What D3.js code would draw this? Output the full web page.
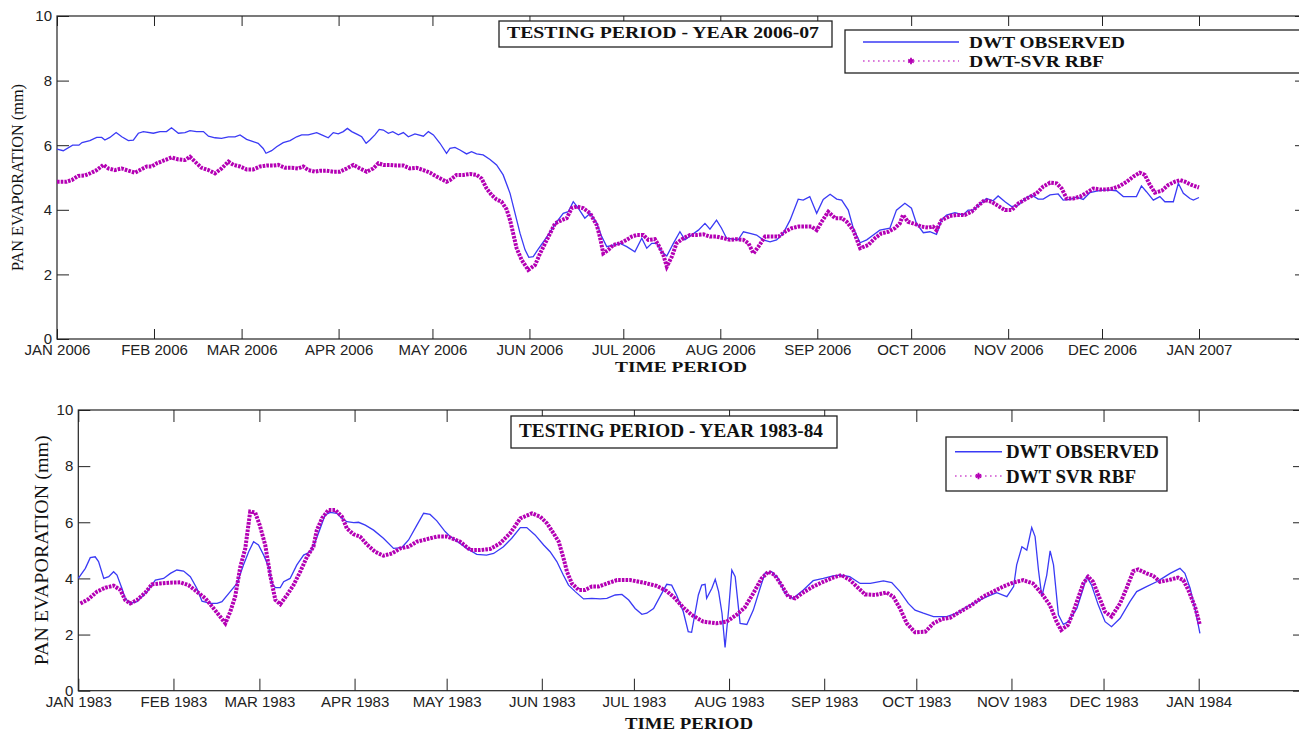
<!DOCTYPE html>
<html lang="en">
<head>
<meta charset="UTF-8">
<title>Pan evaporation - DWT observed vs DWT-SVR RBF</title>
<script src="https://d3js.org/d3.v7.min.js"></script>
<style>
  html, body { margin: 0; background: #fff; }
  svg { display: block; }
  .tick text { font-family: "Liberation Sans", Arial, sans-serif; fill: #222; }
  .serif { font-family: "Liberation Serif", "Times New Roman", serif; fill: #111; }
</style>
</head>
<body>
<svg width="1299" height="732"></svg>
<script>
// values: [day of year, pan evaporation mm]
const yTicks = [0, 2, 4, 6, 8, 10];

const obs2006 = [[0,5.88],[2,5.83],[5,6.00],[7,6.00],[8,6.08],[10.5,6.14],[12.7,6.24],[14.3,6.24],[15.3,6.16],[16.9,6.24],[18.9,6.39],[20.7,6.26],[22.8,6.14],[24.4,6.16],[26,6.37],[27.6,6.42],[30.8,6.37],[32.9,6.42],[35,6.42],[36.6,6.54],[38.8,6.37],[40.9,6.39],[42.5,6.45],[44.6,6.42],[46.8,6.42],[48.4,6.28],[50.5,6.23],[52.6,6.21],[54.8,6.26],[56.9,6.26],[58.5,6.32],[60.6,6.18],[62.7,6.11],[64.3,6.06],[65.9,5.90],[66.8,5.75],[68.6,5.83],[70.2,5.95],[72.3,6.08],[74.5,6.14],[76.6,6.26],[78.2,6.32],[80.3,6.32],[83,6.39],[84.6,6.32],[86.7,6.23],[88.3,6.39],[89.9,6.35],[91.5,6.42],[92.8,6.52],[94.2,6.42],[96.3,6.32],[97.4,6.26],[98.8,6.06],[100,6.16],[101.6,6.32],[103,6.49],[104.3,6.47],[105.9,6.37],[107.3,6.42],[109.1,6.32],[110.7,6.39],[112.3,6.26],[114.4,6.35],[117.1,6.28],[118.7,6.42],[120.3,6.32],[122.4,6.06],[124.5,5.75],[125.6,5.90],[127.2,5.93],[128.8,5.85],[130.9,5.73],[132.5,5.80],[134.1,5.73],[136.2,5.70],[138.4,5.56],[140.5,5.39],[142.6,5.08],[144.8,4.51],[146.4,3.89],[148,3.27],[149.6,2.76],[150.8,2.53],[152.2,2.55],[153.8,2.78],[155.9,3.07],[158,3.37],[159.7,3.63],[161.8,3.89],[163.4,3.94],[165,4.25],[166.6,4.05],[168.7,3.74],[170.4,3.89],[172.5,3.58],[174.1,3.17],[175.7,2.86],[177.8,2.91],[180,2.96],[182.1,2.86],[184.7,2.70],[186.9,3.12],[188.5,2.81],[190.1,2.96],[191.7,2.96],[193.3,2.70],[194.9,2.57],[197,2.96],[199.1,3.32],[200.7,3.07],[202.8,3.22],[205,3.37],[207.1,3.58],[208.7,3.40],[210.8,3.68],[212.4,3.43],[214,3.12],[216.2,3.09],[217.7,3.07],[219.4,3.32],[221.5,3.27],[223.6,3.22],[225.7,3.07],[227.9,3.01],[230,3.07],[232.1,3.27],[234.3,3.68],[236.9,4.33],[238.5,4.30],[240.6,4.41],[242.8,3.89],[244.9,4.32],[247.1,4.48],[249.2,4.33],[250.8,4.30],[252.9,3.99],[254.5,3.43],[256.7,2.98],[258.8,3.07],[260.9,3.22],[263,3.37],[266.2,3.43],[268.3,3.99],[271,4.20],[273.1,4.05],[274.7,3.58],[276.9,3.29],[279,3.32],[281.1,3.24],[282.7,3.68],[284.3,3.84],[287,3.91],[289.6,3.84],[291.2,3.99],[292.8,3.99],[295,4.18],[297.1,4.35],[299.2,4.28],[300.8,4.43],[303,4.25],[305.1,4.10],[307.3,4.15],[309.4,4.35],[311.5,4.46],[313.6,4.33],[315.2,4.33],[317.4,4.46],[320,4.49],[321.6,4.30],[323.8,4.32],[325.9,4.39],[328,4.32],[330.1,4.53],[332.3,4.58],[334.4,4.61],[336.5,4.61],[338.6,4.59],[340.8,4.41],[342.9,4.41],[345,4.41],[346.6,4.74],[348.2,4.56],[350.4,4.30],[352.5,4.41],[354.1,4.25],[356.8,4.25],[358.4,4.82],[360,4.51],[362.1,4.35],[363.2,4.30],[365,4.38]];

const svr2006 = [[0,4.87],[3.1,4.87],[4.7,4.92],[6.8,5.05],[8.9,5.06],[11.1,5.15],[12.7,5.23],[14.8,5.39],[16.4,5.28],[18.5,5.23],[20.7,5.28],[22.8,5.21],[24.9,5.15],[26.5,5.23],[28.7,5.34],[30.3,5.34],[31.9,5.44],[34.5,5.54],[36.6,5.62],[38.8,5.56],[40.9,5.54],[42.5,5.64],[44.1,5.49],[46.2,5.30],[48.4,5.23],[50.5,5.13],[52.6,5.28],[54.8,5.49],[56.4,5.39],[58.5,5.34],[60.6,5.25],[62.7,5.25],[64.9,5.34],[67,5.37],[69.1,5.37],[70.7,5.39],[72.9,5.30],[75,5.30],[77.1,5.28],[78.7,5.34],[80.3,5.23],[82.5,5.18],[84.1,5.21],[86.2,5.21],[88.3,5.18],[90.4,5.18],[92.6,5.28],[94.7,5.39],[96.8,5.28],[99,5.18],[101.1,5.28],[102.7,5.44],[104.3,5.39],[106.4,5.39],[108.6,5.37],[110.7,5.37],[112.8,5.28],[114.9,5.30],[117.1,5.23],[119.2,5.15],[121.3,5.03],[124.5,4.87],[125.6,4.92],[127.7,5.08],[129.9,5.08],[132,5.11],[134.1,5.08],[135.7,4.97],[137.3,4.66],[138.9,4.46],[140.5,4.32],[142.1,4.25],[143.7,4.01],[144.8,3.68],[145.8,3.27],[146.9,2.81],[148.5,2.45],[150.6,2.14],[152.8,2.29],[154.4,2.65],[156,2.96],[157.6,3.27],[159.2,3.58],[161.3,3.68],[162.9,3.74],[164.5,4.05],[166.1,4.10],[168.2,4.05],[170.4,3.89],[172.5,3.53],[173.5,3.17],[174.6,2.65],[176.2,2.76],[177.8,2.91],[179.9,2.96],[182.1,3.07],[183.7,3.17],[185.3,3.22],[187.4,3.22],[189,3.07],[191.1,3.09],[192.2,2.91],[193.8,2.60],[194.9,2.24],[196.5,2.55],[198,2.96],[200.2,3.12],[202.3,3.22],[204.4,3.22],[206.6,3.24],[208.7,3.17],[210.8,3.17],[213,3.12],[215.1,3.07],[217.2,3.09],[219.4,3.07],[221,2.96],[222.6,2.65],[224.2,2.86],[226.3,3.17],[228.4,3.17],[230.6,3.17],[232.7,3.32],[234.8,3.43],[237,3.48],[239.1,3.48],[241.2,3.48],[242.8,3.37],[244.4,3.63],[246.5,3.94],[248.7,3.74],[250.8,3.74],[252.4,3.63],[254.5,3.37],[256.7,2.81],[259.3,2.91],[261.4,3.12],[263.5,3.27],[265.7,3.32],[267.8,3.43],[269.4,3.58],[270.4,3.84],[272,3.63],[274.2,3.56],[276.3,3.48],[278.4,3.45],[280,3.48],[281.1,3.37],[282.7,3.68],[285.4,3.81],[287.5,3.84],[290.1,3.84],[292.3,3.94],[294.4,4.13],[296.5,4.30],[298.7,4.25],[300.8,4.12],[303,3.99],[305.1,3.99],[307.3,4.20],[309.9,4.35],[313.1,4.51],[315.2,4.72],[317.4,4.84],[319.5,4.82],[321.1,4.66],[322.7,4.35],[324.8,4.35],[327,4.41],[329.1,4.53],[331.2,4.66],[333.3,4.63],[335.5,4.63],[337.6,4.66],[339.7,4.74],[341.9,4.87],[344,5.03],[346.1,5.15],[347.7,5.08],[349.3,4.77],[350.9,4.53],[353.1,4.59],[355.2,4.77],[357.3,4.87],[358.9,4.92],[360.5,4.87],[362.6,4.77],[365,4.69]];

const obs1983 = [[0,4.00],[2.3,4.36],[3.9,4.74],[5.5,4.77],[6.6,4.60],[8.3,4.00],[9.9,4.06],[11.5,4.24],[12.6,4.12],[14.2,3.65],[15.3,3.29],[16.9,3.11],[19.1,3.17],[22.4,3.53],[25.1,3.94],[27.8,4.00],[30,4.18],[32.1,4.30],[34.3,4.26],[36.5,4.06],[38.6,3.65],[40.3,3.19],[43,3.11],[45.2,3.11],[46.8,3.17],[49.5,3.53],[51.7,3.82],[53.8,4.48],[55.5,4.95],[57.1,5.31],[58.7,5.19],[60.4,4.83],[62,4.42],[63.1,3.82],[64.2,3.67],[65.8,3.67],[66.9,3.88],[69,4.00],[71.2,4.48],[73.4,4.83],[75.6,4.95],[77.2,5.31],[78.8,5.78],[80.4,6.26],[82.1,6.35],[84.2,6.32],[85.9,6.14],[87.5,6.02],[89.7,5.99],[91.3,6.00],[93.5,5.90],[96.2,5.72],[99.4,5.43],[102.7,5.07],[105.4,5.10],[107.6,5.37],[110.3,5.90],[112.5,6.32],[114.6,6.28],[116.8,6.05],[119.5,5.67],[121.2,5.49],[126.6,5.07],[129.8,4.86],[133,4.83],[135.3,4.89],[138.5,5.13],[141.2,5.43],[144,5.81],[146.1,5.81],[148.8,5.55],[151.6,5.19],[153.7,4.95],[155.9,4.60],[158,4.12],[159.7,3.76],[161.9,3.53],[164.6,3.27],[167.3,3.29],[170,3.27],[172.2,3.29],[174.9,3.41],[177.1,3.43],[179.3,3.23],[181.4,2.93],[183.6,2.72],[185.2,2.76],[187.4,2.93],[189.5,3.35],[191.7,3.79],[193.3,3.76],[194.9,3.41],[197.1,2.81],[198.7,2.10],[199.8,2.08],[202,3.41],[203.1,3.76],[204.2,3.79],[204.7,3.29],[206.4,3.65],[207.5,3.97],[208.6,3.53],[209.7,2.76],[210.7,1.54],[211.9,2.93],[212.9,4.30],[214,4.06],[215.6,2.40],[217.8,2.36],[219.9,2.87],[222.1,3.65],[223.7,4.18],[225.9,4.24],[228,4.00],[230.2,3.47],[232.9,3.29],[236.2,3.59],[239.4,3.92],[242.7,4.00],[245.9,4.09],[248.6,4.12],[251.3,4.06],[254.7,3.82],[258,3.82],[262.3,3.91],[265,3.85],[267.7,3.53],[270.4,3.11],[272.6,2.87],[275.3,2.76],[278.6,2.64],[282.9,2.64],[286.2,2.76],[289.4,2.99],[292.7,3.17],[296,3.35],[299.2,3.49],[302.5,3.35],[304.7,3.71],[305.7,4.48],[307.4,5.13],[309,5.01],[310.6,5.81],[311.7,5.49],[312.8,4.30],[313.9,3.35],[315.5,4.12],[316.6,4.98],[317.7,4.48],[319.3,2.70],[320.9,2.36],[322.5,2.46],[325.3,2.93],[327.4,3.65],[328.5,4.06],[330.1,3.76],[332.3,3.05],[334.5,2.46],[336.6,2.28],[339.4,2.58],[342.6,3.17],[344.8,3.53],[348,3.71],[351.3,3.88],[353.5,4.03],[355.7,4.18],[358.9,4.36],[360.5,4.18],[362.2,3.65],[363.8,2.93],[365.4,2.04]];

const svr1983 = [[0.7,3.11],[3.4,3.27],[6.1,3.53],[8.8,3.67],[11.5,3.74],[13.7,3.59],[15.3,3.23],[16.9,3.11],[19.1,3.23],[21.8,3.49],[24,3.79],[26.7,3.82],[30,3.85],[33.2,3.86],[35.9,3.76],[38.6,3.53],[41.4,3.29],[44.1,2.93],[46.2,2.64],[47.9,2.40],[49.5,2.81],[51.1,3.35],[52.8,4.42],[54.4,5.07],[56,6.38],[57.6,6.35],[59.1,5.90],[60.9,5.19],[62.5,4.12],[64.2,3.23],[65.8,3.08],[68,3.41],[70.1,3.76],[72.3,4.24],[74.5,4.77],[76.6,5.13],[77.7,5.72],[79.4,6.14],[81.5,6.44],[83.7,6.44],[85.9,6.20],[87.5,5.78],[89.7,5.57],[91.8,5.49],[94,5.21],[96.7,4.95],[99.4,4.81],[102.2,4.89],[104.9,5.07],[107.6,5.13],[110.3,5.31],[113.6,5.40],[116.8,5.49],[120.1,5.49],[121.2,5.45],[124.4,5.31],[127.7,5.01],[130.9,5.01],[134.2,5.05],[137.4,5.25],[140.7,5.61],[144,6.14],[147.8,6.32],[150.5,6.20],[152.7,5.96],[154.8,5.61],[156.5,5.31],[158.1,4.71],[159.2,4.24],[160.8,3.82],[163,3.59],[165.1,3.59],[167.3,3.71],[169.5,3.71],[172.2,3.82],[175.5,3.94],[179.8,3.94],[184.2,3.85],[188.5,3.73],[191.7,3.55],[194.4,3.29],[197.1,2.96],[199.8,2.70],[203.6,2.46],[207.9,2.40],[211.2,2.46],[214.4,2.70],[217.1,2.96],[219.9,3.47],[222.6,4.00],[224.8,4.24],[226.9,4.12],[229.1,3.76],[231.3,3.35],[233.5,3.29],[236.2,3.50],[239.4,3.71],[242.7,3.88],[245.9,4.03],[248.6,4.12],[251.4,3.94],[253.6,3.71],[256.3,3.43],[259.6,3.41],[263.3,3.50],[265.5,3.35],[267.7,2.93],[269.9,2.40],[272.6,2.08],[275.9,2.10],[278.6,2.40],[281.3,2.55],[284,2.60],[287.2,2.81],[291,3.05],[294.8,3.35],[298,3.53],[301.3,3.71],[304.5,3.85],[307.8,3.94],[311,3.82],[313.8,3.47],[316.5,3.05],[318.7,2.46],[320.2,2.16],[322.4,2.34],[324,2.76],[325.7,3.29],[327.4,3.82],[329,4.06],[330.6,3.88],[332.3,3.41],[334.5,2.81],[336.6,2.64],[339.4,3.11],[341.5,3.65],[343.7,4.26],[345.3,4.32],[348,4.18],[350.2,4.09],[352.4,3.88],[355.1,3.94],[358.3,4.03],[360,3.94],[361.6,3.59],[363.8,2.99],[365.4,2.34]];

const blue = "#3a3af5";
const magenta = "#b400b4";

const svg = d3.select("svg");

// one subplot: layout numbers only, data comes from the arrays above
function drawPanel(p) {
  const g = svg.append("g");
  const x = d3.scaleUtc()
    .domain([p.start, d3.utcYear.offset(p.start, 1)])
    .range([p.left, p.janNext]);
  const y = d3.scaleLinear().domain([0, 10]).range([p.bottom, p.top]);
  const months = d3.utcMonth.range(p.start, d3.utcMonth.offset(p.start, 13));
  const fmt = d => d3.utcFormat("%b %Y")(d).toUpperCase();
  const toDate = day => new Date(+p.start + day * 864e5);

  // ticks on all four sides, pointing inward
  g.append("g").attr("transform", `translate(0,${p.bottom})`).attr("color", "#222")
    .call(d3.axisBottom(x).tickValues(months).tickFormat(fmt)
      .tickSizeInner(-p.xTick).tickSizeOuter(0).tickPadding(p.xPad))
    .call(a => a.select(".domain").remove())
    .selectAll("text").style("font-size", p.tickFont + "px");
  g.append("g").attr("transform", `translate(0,${p.top})`).attr("color", "#222")
    .call(d3.axisTop(x).tickValues(months).tickFormat("").tickSizeInner(-p.xTick).tickSizeOuter(0))
    .call(a => a.select(".domain").remove());
  g.append("g").attr("transform", `translate(${p.left},0)`).attr("color", "#222")
    .call(d3.axisLeft(y).tickValues(yTicks).tickSizeInner(-p.yTick).tickSizeOuter(0).tickPadding(5))
    .call(a => a.select(".domain").remove())
    .selectAll("text").style("font-size", p.tickFont + "px");
  g.append("g").attr("transform", `translate(${p.right},0)`).attr("color", "#222")
    .call(d3.axisRight(y).tickValues(yTicks).tickFormat("").tickSizeInner(-p.yTick).tickSizeOuter(0))
    .call(a => a.select(".domain").remove());

  g.append("rect")
    .attr("x", p.left).attr("y", p.top)
    .attr("width", p.right - p.left).attr("height", p.bottom - p.top)
    .attr("fill", "none").attr("stroke", "#222").attr("stroke-width", 1.2);

  const line = d3.line().x(d => x(toDate(d[0]))).y(d => y(d[1]));

  g.append("path").datum(p.obs)
    .attr("d", line).attr("fill", "none")
    .attr("stroke", blue).attr("stroke-width", 1.3);

  // SVR series: dense star markers read as a thick beaded stroke
  g.append("path").datum(p.svr)
    .attr("d", line).attr("fill", "none")
    .attr("stroke", magenta).attr("stroke-width", 4)
    .attr("stroke-dasharray", "2.6,1.1");

  // title box
  g.append("rect")
    .attr("x", p.title.x0).attr("y", p.title.y0)
    .attr("width", p.title.x1 - p.title.x0).attr("height", p.title.y1 - p.title.y0)
    .attr("fill", "#fff").attr("stroke", "#222").attr("stroke-width", 1.3);
  g.append("text").attr("class", "serif")
    .attr("x", p.title.tx).attr("y", p.title.ty)
    .attr("font-size", p.title.size).attr("font-weight", "bold")
    .attr("textLength", p.title.len).attr("lengthAdjust", "spacingAndGlyphs")
    .text(p.title.text);

  // legend
  const L = p.legend;
  g.append("rect")
    .attr("x", L.x0).attr("y", L.y0)
    .attr("width", L.x1 - L.x0).attr("height", L.y1 - L.y0)
    .attr("fill", "#fff").attr("stroke", "#222").attr("stroke-width", 1.3);
  g.append("line")
    .attr("x1", L.lx0).attr("x2", L.lx1).attr("y1", L.r1).attr("y2", L.r1)
    .attr("stroke", blue).attr("stroke-width", 1.5);
  g.append("line")
    .attr("x1", L.lx0).attr("x2", L.lx1).attr("y1", L.r2).attr("y2", L.r2)
    .attr("stroke", "#d050d0").attr("stroke-width", 1.6).attr("stroke-dasharray", "1.6,3.4");
  g.append("path")
    .attr("transform", `translate(${(L.lx0 + L.lx1) / 2},${L.r2})`)
    .attr("d", d3.symbol(d3.symbolAsterisk, 28)())
    .attr("fill", "none").attr("stroke", magenta).attr("stroke-width", 1.8);
  L.labels.forEach((t, i) => {
    g.append("text").attr("class", "serif")
      .attr("x", L.tx).attr("y", i === 0 ? L.r1 + L.dy : L.r2 + L.dy)
      .attr("font-size", L.size).attr("font-weight", "bold")
      .attr("textLength", L.lens[i]).attr("lengthAdjust", "spacingAndGlyphs")
      .text(t);
  });

  // axis titles
  g.append("text").attr("class", "serif")
    .attr("transform", `translate(${p.ylab.x},${(p.top + p.bottom) / 2}) rotate(-90)`)
    .attr("text-anchor", "middle").attr("dy", "0.33em")
    .attr("font-size", p.ylab.size)
    .attr("textLength", p.ylab.len).attr("lengthAdjust", "spacingAndGlyphs")
    .text("PAN EVAPORATION (mm)");
  g.append("text").attr("class", "serif")
    .attr("x", p.xlab.x).attr("y", p.xlab.y)
    .attr("text-anchor", "middle")
    .attr("font-size", p.xlab.size).attr("font-weight", "bold")
    .attr("textLength", p.xlab.len).attr("lengthAdjust", "spacingAndGlyphs")
    .text("TIME PERIOD");
}

drawPanel({
  start: Date.UTC(2006, 0, 1),
  left: 57, janNext: 1199, right: 1307, top: 16, bottom: 339,
  xTick: 10, yTick: 12, xPad: 5, tickFont: 15,
  obs: obs2006, svr: svr2006,
  title: { x0: 499, x1: 832, y0: 21, y1: 47, tx: 507, ty: 38, size: 17, len: 312,
           text: "TESTING PERIOD - YEAR 2006-07" },
  legend: { x0: 845, x1: 1310, y0: 30, y1: 73, lx0: 863, lx1: 959, r1: 42, r2: 61,
            tx: 969, dy: 5.5, size: 16, lens: [156, 135],
            labels: ["DWT OBSERVED", "DWT-SVR RBF"] },
  ylab: { x: 18, size: 16, len: 187 },
  xlab: { x: 681, y: 372, size: 15, len: 132 }
});

drawPanel({
  start: Date.UTC(1983, 0, 1),
  left: 78.3, janNext: 1198.7, right: 1305, top: 410, bottom: 690.7,
  xTick: 12, yTick: 12, xPad: 6, tickFont: 15,
  obs: obs1983, svr: svr1983,
  title: { x0: 511, x1: 837, y0: 416, y1: 448, tx: 519, ty: 437, size: 19, len: 304,
           text: "TESTING PERIOD - YEAR 1983-84" },
  legend: { x0: 946, x1: 1167, y0: 437, y1: 491, lx0: 955, lx1: 1002, r1: 451.7, r2: 476,
            tx: 1006, dy: 6.5, size: 18, lens: [153, 130],
            labels: ["DWT OBSERVED", "DWT SVR RBF"] },
  ylab: { x: 42, size: 19.5, len: 230 },
  xlab: { x: 689, y: 729, size: 17, len: 128 }
});
</script>
</body>
</html>
